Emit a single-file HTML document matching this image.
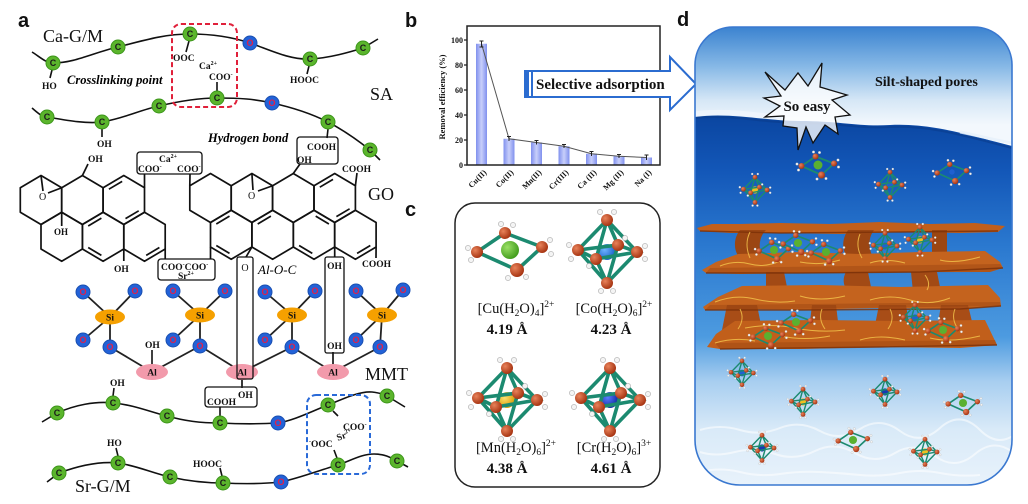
<!DOCTYPE html>
<html><head><meta charset="utf-8"><style>
html,body{margin:0;padding:0;background:#fff;}
svg{display:block;}
.ser{font-family:"Liberation Serif",serif;}
.cc{fill:#5bb52c;stroke:#3c961a;stroke-width:1}
.oc{fill:#2262d8;stroke:#1a4fb0;stroke-width:1}
.ct{font:bold 9px "Liberation Sans",sans-serif;fill:#1a1a1a;text-anchor:middle}
.ot{font:bold 9px "Liberation Sans",sans-serif;fill:#e0204a;text-anchor:middle}
.ch{font-family:"Liberation Serif",serif;font-size:9.5px;font-weight:bold;fill:#111}
.ln{stroke:#111;stroke-width:1.6;fill:none}
.hx{stroke:#111;stroke-width:1.7;fill:none;stroke-linejoin:round}
.big{font-family:"Liberation Serif",serif;font-size:18px;fill:#111}
.lab{font-family:"Liberation Sans",sans-serif;font-weight:bold;font-size:20px;fill:#111}
</style></head><body>
<svg width="1028" height="504" viewBox="0 0 1028 504" xmlns="http://www.w3.org/2000/svg">
<defs>
<linearGradient id="sky" x1="0" y1="27" x2="0" y2="125" gradientUnits="userSpaceOnUse">
<stop offset="0" stop-color="#3b83d0"/><stop offset=".4" stop-color="#86b8e6"/><stop offset=".75" stop-color="#d6e7f6"/><stop offset="1" stop-color="#f3f8fd"/>
</linearGradient>
<linearGradient id="water" x1="0" y1="115" x2="0" y2="485" gradientUnits="userSpaceOnUse">
<stop offset="0" stop-color="#0a45a0"/><stop offset=".15" stop-color="#1357b8"/><stop offset=".35" stop-color="#2a78cf"/><stop offset=".6" stop-color="#4d9be0"/><stop offset=".72" stop-color="#a8cef0"/><stop offset=".85" stop-color="#d9eaf8"/><stop offset="1" stop-color="#e8f2fb"/>
</linearGradient>
<linearGradient id="bar" x1="0" x2="1" y1="0" y2="0"><stop offset="0" stop-color="#8090ee"/><stop offset=".5" stop-color="#c8cffa"/><stop offset="1" stop-color="#8090ee"/></linearGradient>
<radialGradient id="gO" cx=".35" cy=".35" r=".7"><stop offset="0" stop-color="#e8825a"/><stop offset="1" stop-color="#a3300e"/></radialGradient>
<radialGradient id="gCu" cx=".35" cy=".35" r=".7"><stop offset="0" stop-color="#9be066"/><stop offset="1" stop-color="#3f9a1a"/></radialGradient>
<radialGradient id="gCo" cx=".35" cy=".35" r=".7"><stop offset="0" stop-color="#6fb4ff"/><stop offset="1" stop-color="#1a5fc8"/></radialGradient>
<radialGradient id="gMn" cx=".35" cy=".35" r=".7"><stop offset="0" stop-color="#ffe070"/><stop offset="1" stop-color="#d89a00"/></radialGradient>
<radialGradient id="gCr" cx=".35" cy=".35" r=".7"><stop offset="0" stop-color="#5a7cff"/><stop offset="1" stop-color="#1028a0"/></radialGradient>
<clipPath id="dclip"><path d="M695,65 A38,38 0 0 1 733,27 L974,27 A38,38 0 0 1 1012,65 L1012,440 A45,45 0 0 1 967,485 L740,485 A45,45 0 0 1 695,440 Z"/></clipPath>
<g id="oct">
<path d="M0,-32L-29,-2M0,-32L30,0M0,-32L-11,7M0,-32L11,-7M0,31L-29,-2M0,31L30,0M0,31L-11,7M0,31L11,-7M-29,-2L-11,7L30,0L11,-7Z" stroke="#1c8a70" stroke-width="3.6" stroke-linecap="round" fill="none"/>
<g fill="#f4f4f4" stroke="#aaa" stroke-width=".6">
<circle cx="-7" cy="-40" r="2.6"/><circle cx="7" cy="-40" r="2.6"/><circle cx="-6" cy="39" r="2.6"/><circle cx="6" cy="39" r="2.6"/><circle cx="-38" cy="-7" r="2.6"/><circle cx="-36" cy="7" r="2.6"/><circle cx="38" cy="-6" r="2.6"/><circle cx="38" cy="7" r="2.6"/><circle cx="-18" cy="14" r="2.6"/><circle cx="18" cy="-14" r="2.6"/>
</g>
<g fill="url(#gO)">
<circle cx="0" cy="-32" r="6"/><circle cx="0" cy="31" r="6"/><circle cx="-29" cy="-2" r="6"/><circle cx="30" cy="0" r="6"/><circle cx="-11" cy="7" r="6"/><circle cx="11" cy="-7" r="6"/>
</g>
</g>
<g id="sq">
<path d="M-5,-17L-33,2L7,20L32,-3Z" stroke="#1c8a70" stroke-width="3.6" stroke-linejoin="round" fill="none"/>
<g fill="#f4f4f4" stroke="#aaa" stroke-width=".6">
<circle cx="-9" cy="-26" r="2.6"/><circle cx="3" cy="-25" r="2.6"/><circle cx="-42" cy="-2" r="2.6"/><circle cx="-39" cy="10" r="2.6"/><circle cx="40" cy="-10" r="2.6"/><circle cx="41" cy="4" r="2.6"/><circle cx="-2" cy="28" r="2.6"/><circle cx="16" cy="27" r="2.6"/>
</g>
<g fill="url(#gO)">
<circle cx="-5" cy="-17" r="6"/><circle cx="-33" cy="2" r="6"/><circle cx="7" cy="20" r="7"/><circle cx="32" cy="-3" r="6"/>
</g>
</g>
</defs>

<!-- ============ PANEL A ============ -->
<text class="lab" x="18" y="27">a</text>

<path class="ln" stroke-width="2" d="M32,52 C40,57 46,63 53,63 C75,63 95,52 118,47 C145,40 165,34 190,34 C215,34 235,38 250,43 C270,50 290,60 310,59 C330,58 350,52 363,48 L378,39"/>
<path class="ln" stroke-width="2" d="M32,108 C38,113 42,117 47,117 C65,120 85,124 102,122 C125,118 140,110 159,106 C180,101 200,98 217,98 C240,98 255,99 272,103 C295,108 312,114 328,122 C345,131 360,142 370,150 L380,160"/>
<path class="ln" stroke-width="2" d="M42,422 L57,413 C75,405 95,401 113,403 C135,405 150,412 167,416 C185,421 200,423 220,423 C240,424 260,424 278,423 C295,420 310,412 328,405 C345,398 360,391 372,392 C380,393 384,394 387,396 L405,407"/>
<path class="ln" stroke-width="2" d="M47,482 L59,473 C78,466 98,461 118,463 C138,466 152,473 170,477 C188,481 205,483 223,483 C243,484 262,484 281,482 C300,478 320,470 338,465 C352,460 362,454 374,454 C384,454 390,457 397,461 L408,467"/>

<path class="ln" d="M52,70 L50,78 M189,41 L186,52 M217,91 L217,82 M309,66 L307,74 M102,129 L102,137 M328,129 L327,138 M113,396 L114,388 M220,416 L220,407 M333,411 L338,416 M118,456 L116,448 M222,476 L220,468 M337,458 L334,450 M152,365 L152,350"/>

<rect x="172" y="24" width="65" height="83" rx="9" fill="none" stroke="#e0203a" stroke-width="2" stroke-dasharray="5,3"/>
<rect x="307" y="395" width="63" height="79" rx="9" fill="none" stroke="#2a6ad8" stroke-width="2" stroke-dasharray="5,3"/>

<g class="ch">
<text x="42" y="89">HO</text>
<text x="171" y="61"><tspan font-size="6" dy="-4">-</tspan><tspan dy="4">OOC</tspan></text>
<text x="199" y="69">Ca<tspan font-size="6" dy="-4">2+</tspan></text>
<text x="209" y="80">COO<tspan font-size="6" dy="-4">-</tspan></text>
<text x="290" y="83">HOOC</text>
<text x="97" y="147">OH</text>
<text x="307" y="150">COOH</text>
<text x="297" y="163">OH</text>
<text x="110" y="386">OH</text>
<text x="207" y="405">COOH</text>
<text x="238" y="398">OH</text>
<text x="107" y="446">HO</text>
<text x="193" y="467">HOOC</text>
<text x="309" y="447"><tspan font-size="6" dy="-4">-</tspan><tspan dy="4">OOC</tspan></text>
<text x="336" y="438" transform="rotate(-20 345 434)">Sr<tspan font-size="6" dy="-4">2+</tspan></text>
<text x="343" y="430">COO<tspan font-size="6" dy="-4">-</tspan></text>
<text x="145" y="348">OH</text>
</g>
<rect x="297" y="137" width="41" height="27" rx="3" fill="none" stroke="#111" stroke-width="1.3"/>
<rect x="205" y="387" width="52" height="20" rx="3" fill="none" stroke="#111" stroke-width="1.3"/>

<text class="big" x="43" y="42">Ca-G/M</text>
<text class="big" x="370" y="100">SA</text>
<text class="big" x="368" y="200">GO</text>
<text class="big" x="365" y="380">MMT</text>
<text class="big" x="75" y="492">Sr-G/M</text>
<text class="ser" x="67" y="84" font-size="12.5" font-style="italic" font-weight="bold">Crosslinking point</text>
<text class="ser" x="208" y="142" font-size="12.5" font-style="italic" font-weight="bold">Hydrogen bond</text>
<text class="ser" x="258" y="274" font-size="13" font-style="italic">Al-O-C</text>

<g class="hx">
<polygon points="41,175.5 61.7,187.75 61.7,212.25 41,224.5 20.3,212.25 20.3,187.75"/>
<polygon points="82.4,175.5 103.1,187.75 103.1,212.25 82.4,224.5 61.7,212.25 61.7,187.75"/>
<polygon points="123.8,175.5 144.5,187.75 144.5,212.25 123.8,224.5 103.1,212.25 103.1,187.75"/>
<polygon points="61.7,212.25 82.4,224.5 82.4,249 61.7,261.25 41,249 41,224.5"/>
<polygon points="103.1,212.25 123.8,224.5 123.8,249 103.1,261.25 82.4,249 82.4,224.5"/>
<polygon points="144.5,212.25 165.2,224.5 165.2,249 144.5,261.25 123.8,249 123.8,224.5"/>
<polygon points="210.5,173.5 231.2,185.75 231.2,210.25 210.5,222.5 189.8,210.25 189.8,185.75"/>
<polygon points="251.9,173.5 272.6,185.75 272.6,210.25 251.9,222.5 231.2,210.25 231.2,185.75"/>
<polygon points="293.3,173.5 314,185.75 314,210.25 293.3,222.5 272.6,210.25 272.6,185.75"/>
<polygon points="334.7,173.5 355.4,185.75 355.4,210.25 334.7,222.5 314,210.25 314,185.75"/>
<polygon points="231.2,210.25 251.9,222.5 251.9,247 231.2,259.25 210.5,247 210.5,222.5"/>
<polygon points="272.6,210.25 293.3,222.5 293.3,247 272.6,259.25 251.9,247 251.9,222.5"/>
<polygon points="314,210.25 334.7,222.5 334.7,247 314,259.25 293.3,247 293.3,222.5"/>
<polygon points="355.4,210.25 376.1,222.5 376.1,247 355.4,259.25 334.7,247 334.7,222.5"/>
<path d="M108.9,189.2L122.15,181.4 M138.7,210.8L125.5,218.6 M88.2,226L101.4,218.1 M88.2,247.5L101.4,255.4 M159.4,247.5L146.2,255.4 M216.3,224L229.5,216.1 M216.3,245.5L229.5,253.4 M257.7,224L270.9,216.1 M315.7,216.1L328.9,224 M319.8,187.2L333,179.4 M349.6,208.8L336.4,216.6 M299.1,245.5L312.3,253.4 M370.3,245.5L357.1,253.4"/>
<path d="M41,175.5L43,191 M61.7,187.75L48,193 M251.9,173.5L253,190 M272.6,185.75L258,191"/>
<path d="M82.4,175.5L88,164 M61.7,212.25L61.7,226 M123.8,249L123.8,261 M144.5,187.75L144.5,174 M189.8,185.75L190,174 M165.2,249L165.2,259 M210.5,247L210.5,259 M293.3,173.5L300,164 M355.4,185.75L357,173 M376.1,247L376,258 M251.9,247L246,257 M334.7,247L334.7,257"/>
</g>
<g class="ch">
<text x="88" y="162">OH</text>
<text x="54" y="235" font-size="9">OH</text>
<text x="114" y="272">OH</text>
<text x="39" y="200" font-size="10" font-weight="normal">O</text>
<text x="248" y="199" font-size="10" font-weight="normal">O</text>
<text x="159" y="162">Ca<tspan font-size="6" dy="-4">2+</tspan></text>
<text x="138" y="172">COO<tspan font-size="6" dy="-4">-</tspan></text>
<text x="177" y="172">COO<tspan font-size="6" dy="-4">-</tspan></text>
<text x="161" y="270">COO<tspan font-size="6" dy="-4">-</tspan><tspan dy="4">COO</tspan><tspan font-size="6" dy="-4">-</tspan></text>
<text x="178" y="279">Sr<tspan font-size="6" dy="-4">2+</tspan></text>
<text x="342" y="172">COOH</text>
<text x="362" y="267">COOH</text>
<text x="245" y="271" text-anchor="middle" font-weight="normal" font-size="10">O</text>
<text x="334.5" y="269" text-anchor="middle">OH</text>
<text x="334.5" y="349" text-anchor="middle">OH</text>
</g>
<rect x="137" y="152" width="65" height="22" rx="3" fill="none" stroke="#111" stroke-width="1.3"/>
<rect x="158" y="259" width="57" height="21" rx="3" fill="none" stroke="#111" stroke-width="1.3"/>

<path stroke="#222" stroke-width="1.8" fill="none" d="
M110,317L83,292 M110,317L135,291 M110,317L83,340 M110,317L110,347
M200,315L173,291 M200,315L225,291 M200,315L173,340 M200,315L200,346
M292,315L265,292 M292,315L315,291 M292,315L265,340 M292,315L292,347
M382,315L356,291 M382,315L403,290 M382,315L356,340 M382,315L380,347
M110,347L152,372 L200,346 L242,372 L292,347 L333,372 L380,347 M333,352L333,365 M242,379L242,388"/>
<g fill="#f5a000"><ellipse cx="110" cy="317" rx="15" ry="7.5"/><ellipse cx="200" cy="315" rx="15" ry="7.5"/><ellipse cx="292" cy="315" rx="15" ry="7.5"/><ellipse cx="382" cy="315" rx="15" ry="7.5"/></g>
<g fill="#f29aab"><ellipse cx="152" cy="372" rx="16" ry="8"/><ellipse cx="242" cy="372" rx="16" ry="8"/><ellipse cx="333" cy="372" rx="16" ry="8"/></g>
<g class="ch" text-anchor="middle" font-size="9">
<text x="110" y="320.5">Si</text><text x="200" y="318.5">Si</text><text x="292" y="318.5">Si</text><text x="382" y="318.5">Si</text>
<text x="152" y="375.5">Al</text><text x="242" y="375.5">Al</text><text x="333" y="375.5">Al</text>
</g>
<rect x="237" y="257" width="16" height="122" rx="2" fill="none" stroke="#111" stroke-width="1.3"/>
<rect x="325" y="257" width="19" height="96" rx="2" fill="none" stroke="#111" stroke-width="1.3"/>

<g>
<circle class="oc" cx="250" cy="43" r="7"/><circle class="oc" cx="272" cy="103" r="7"/><circle class="oc" cx="278" cy="423" r="7"/><circle class="oc" cx="281" cy="482" r="7"/>
<circle class="oc" cx="83" cy="292" r="7"/><circle class="oc" cx="135" cy="291" r="7"/><circle class="oc" cx="83" cy="340" r="7"/><circle class="oc" cx="110" cy="347" r="7"/>
<circle class="oc" cx="173" cy="291" r="7"/><circle class="oc" cx="225" cy="291" r="7"/><circle class="oc" cx="173" cy="340" r="7"/><circle class="oc" cx="200" cy="346" r="7"/>
<circle class="oc" cx="265" cy="292" r="7"/><circle class="oc" cx="315" cy="291" r="7"/><circle class="oc" cx="265" cy="340" r="7"/><circle class="oc" cx="292" cy="347" r="7"/>
<circle class="oc" cx="356" cy="291" r="7"/><circle class="oc" cx="403" cy="290" r="7"/><circle class="oc" cx="356" cy="340" r="7"/><circle class="oc" cx="380" cy="347" r="7"/>
</g>
<g class="ot">
<text x="250" y="46.2">O</text><text x="272" y="106.2">O</text><text x="278" y="426.2">O</text><text x="281" y="485.2">O</text>
<text x="83" y="295.2">O</text><text x="135" y="294.2">O</text><text x="83" y="343.2">O</text><text x="110" y="350.2">O</text>
<text x="173" y="294.2">O</text><text x="225" y="294.2">O</text><text x="173" y="343.2">O</text><text x="200" y="349.2">O</text>
<text x="265" y="295.2">O</text><text x="315" y="294.2">O</text><text x="265" y="343.2">O</text><text x="292" y="350.2">O</text>
<text x="356" y="294.2">O</text><text x="403" y="293.2">O</text><text x="356" y="343.2">O</text><text x="380" y="350.2">O</text>
</g>
<g>
<circle class="cc" cx="53" cy="63" r="7"/><circle class="cc" cx="118" cy="47" r="7"/><circle class="cc" cx="190" cy="34" r="7"/><circle class="cc" cx="310" cy="59" r="7"/><circle class="cc" cx="363" cy="48" r="7"/>
<circle class="cc" cx="47" cy="117" r="7"/><circle class="cc" cx="102" cy="122" r="7"/><circle class="cc" cx="159" cy="106" r="7"/><circle class="cc" cx="217" cy="98" r="7"/><circle class="cc" cx="328" cy="122" r="7"/><circle class="cc" cx="370" cy="150" r="7"/>
<circle class="cc" cx="57" cy="413" r="7"/><circle class="cc" cx="113" cy="403" r="7"/><circle class="cc" cx="167" cy="416" r="7"/><circle class="cc" cx="220" cy="423" r="7"/><circle class="cc" cx="328" cy="405" r="7"/><circle class="cc" cx="387" cy="396" r="7"/>
<circle class="cc" cx="59" cy="473" r="7"/><circle class="cc" cx="118" cy="463" r="7"/><circle class="cc" cx="170" cy="477" r="7"/><circle class="cc" cx="223" cy="483" r="7"/><circle class="cc" cx="338" cy="465" r="7"/><circle class="cc" cx="397" cy="461" r="7"/>
</g>
<g class="ct">
<text x="53" y="66.2">C</text><text x="118" y="50.2">C</text><text x="190" y="37.2">C</text><text x="310" y="62.2">C</text><text x="363" y="51.2">C</text>
<text x="47" y="120.2">C</text><text x="102" y="125.2">C</text><text x="159" y="109.2">C</text><text x="217" y="101.2">C</text><text x="328" y="125.2">C</text><text x="370" y="153.2">C</text>
<text x="57" y="416.2">C</text><text x="113" y="406.2">C</text><text x="167" y="419.2">C</text><text x="220" y="426.2">C</text><text x="328" y="408.2">C</text><text x="387" y="399.2">C</text>
<text x="59" y="476.2">C</text><text x="118" y="466.2">C</text><text x="170" y="480.2">C</text><text x="223" y="486.2">C</text><text x="338" y="468.2">C</text><text x="397" y="464.2">C</text>
</g>

<!-- ============ PANEL B ============ -->
<text class="lab" x="405" y="27">b</text>
<g>
<rect x="476" y="43.75" width="11" height="121.25" fill="url(#bar)"/>
<rect x="503.5" y="138.75" width="11" height="26.25" fill="url(#bar)"/>
<rect x="531" y="142.5" width="11" height="22.5" fill="url(#bar)"/>
<rect x="558.5" y="146.25" width="11" height="18.75" fill="url(#bar)"/>
<rect x="586" y="153.75" width="11" height="11.25" fill="url(#bar)"/>
<rect x="613.5" y="156.25" width="11" height="8.75" fill="url(#bar)"/>
<rect x="641" y="157.5" width="11" height="7.5" fill="url(#bar)"/>
<polyline points="481.5,43.75 509,138.75 536.5,142.5 564,146.25 591.5,153.75 619,156.25 646.5,157.5" fill="none" stroke="#555" stroke-width="1"/>
<path stroke="#222" stroke-width="1" fill="none" d="M481.5,41V47M479.5,41H483.5M479.5,47H483.5 M509,136.5V141M507,136.5H511 M536.5,140.5V144.5M534.5,140.5H538.5 M564,144.5V148M562,144.5H566 M591.5,151.5V156M589.5,151.5H593.5 M619,154.5V158M617,154.5H621 M646.5,155V160M644.5,155H648.5"/>
<rect x="467" y="26" width="193" height="139" fill="none" stroke="#222" stroke-width="1.5"/>
<path stroke="#222" stroke-width="1.2" d="M464,165H467M464,140H467M464,115H467M464,90H467M464,65H467M464,40H467"/>
<g class="ser" font-size="8" font-weight="bold" text-anchor="end" fill="#111">
<text x="463" y="168">0</text><text x="463" y="143">20</text><text x="463" y="118">40</text><text x="463" y="93">60</text><text x="463" y="68">80</text><text x="463" y="43">100</text>
</g>
<text class="ser" transform="translate(445,97) rotate(-90)" text-anchor="middle" font-size="8.5" font-weight="bold" fill="#111">Removal efficiency (%)</text>
<g class="ser" font-size="8" font-weight="bold" text-anchor="end" fill="#111">
<text transform="translate(487,173) rotate(-45)">Cu(II)</text>
<text transform="translate(514,173) rotate(-45)">Co(II)</text>
<text transform="translate(542,173) rotate(-45)">Mn(II)</text>
<text transform="translate(569,173) rotate(-45)">Cr(III)</text>
<text transform="translate(597,173) rotate(-45)">Ca (II)</text>
<text transform="translate(624,173) rotate(-45)">Mg (II)</text>
<text transform="translate(652,173) rotate(-45)">Na (I)</text>
</g>
</g>
<path d="M525,71 L670,71 L670,57 L696,84 L670,110 L670,97 L525,97 Z" fill="#fff" stroke="#2b6cd0" stroke-width="2" stroke-linejoin="miter"/>
<rect x="525" y="71" width="4" height="26" fill="#2b6cd0"/>
<rect x="531" y="71" width="2" height="26" fill="#2b6cd0"/>
<text class="ser" x="536" y="89" font-size="15" font-weight="bold" fill="#111">Selective adsorption</text>

<!-- ============ PANEL C ============ -->
<text class="lab" x="405" y="216">c</text>
<rect x="455" y="203" width="205" height="284" rx="20" fill="none" stroke="#222" stroke-width="1.5"/>
<g transform="translate(510,250)"><circle r="9" fill="url(#gCu)"/><use href="#sq"/></g>
<g transform="translate(607,252)"><circle r="8" fill="url(#gCo)"/><use href="#oct"/></g>
<g transform="translate(507,400)"><circle r="8" fill="url(#gMn)"/><use href="#oct"/></g>
<g transform="translate(610,400)"><circle r="8" fill="url(#gCr)"/><use href="#oct"/></g>
<g class="ser" fill="#111" text-anchor="middle">
<text x="516" y="313" font-size="14.5">[Cu(H<tspan font-size="9.5" dy="3">2</tspan><tspan dy="-3">O)</tspan><tspan font-size="9.5" dy="3">4</tspan><tspan dy="-3">]</tspan><tspan font-size="9.5" dy="-6">2+</tspan></text>
<text x="614" y="313" font-size="14.5">[Co(H<tspan font-size="9.5" dy="3">2</tspan><tspan dy="-3">O)</tspan><tspan font-size="9.5" dy="3">6</tspan><tspan dy="-3">]</tspan><tspan font-size="9.5" dy="-6">2+</tspan></text>
<text x="516" y="452" font-size="14.5">[Mn(H<tspan font-size="9.5" dy="3">2</tspan><tspan dy="-3">O)</tspan><tspan font-size="9.5" dy="3">6</tspan><tspan dy="-3">]</tspan><tspan font-size="9.5" dy="-6">2+</tspan></text>
<text x="614" y="452" font-size="14.5">[Cr(H<tspan font-size="9.5" dy="3">2</tspan><tspan dy="-3">O)</tspan><tspan font-size="9.5" dy="3">6</tspan><tspan dy="-3">]</tspan><tspan font-size="9.5" dy="-6">3+</tspan></text>
<text x="507" y="334" font-size="15" font-weight="bold">4.19 Å</text>
<text x="611" y="334" font-size="15" font-weight="bold">4.23 Å</text>
<text x="507" y="473" font-size="15" font-weight="bold">4.38 Å</text>
<text x="611" y="473" font-size="15" font-weight="bold">4.61 Å</text>
</g>

<!-- ============ PANEL D ============ -->
<text class="lab" x="677" y="26">d</text>
<g clip-path="url(#dclip)">
<rect x="695" y="27" width="317" height="115" fill="url(#sky)"/>
<path d="M695,117 C730,112 765,121 800,121 C840,121 860,127 890,125 C930,123 965,134 1012,146 L1012,485 L695,485Z" fill="url(#water)"/>
<path d="M695,114 C720,110 750,114 785,118" stroke="#eef5fc" stroke-width="5" fill="none" opacity=".85"/>
<path d="M695,118 C730,114 765,123 800,123 C840,123 860,129 890,127 C930,125 965,136 1012,148" stroke="#0a3c8c" stroke-width="2" fill="none" opacity=".6"/>
<path d="M960,132 C980,136 995,140 1012,143" stroke="#e6f0fa" stroke-width="3" fill="none" opacity=".8"/>
<g stroke="#ffffff" stroke-width="2" fill="none" opacity=".55">
<path d="M700,430 q20,-6 40,0 t40,-2 t40,3 t40,-2 t40,2 t40,-3 t40,2 t40,0"/>
<path d="M700,452 q15,5 35,0 t40,2 t40,-3 t40,2 t40,0 t40,3 t40,-2 t40,0"/>
<path d="M700,472 q20,-5 40,0 t40,2 t40,-2 t40,3 t40,-2 t40,0 t40,2"/>
</g>

<g transform="translate(755,190) scale(.4)"><circle r="9" fill="#f0c020"/><use href="#oct"/></g>
<g transform="translate(818,165) scale(.5)"><circle r="9" fill="#5ab030"/><use href="#sq"/></g>
<g transform="translate(890,185) scale(.4)"><circle r="9" fill="#2060d0"/><use href="#oct"/></g>
<g transform="translate(952,172) scale(.45)"><circle r="6" fill="#2060d0"/><use href="#sq"/></g>

<!-- layers -->
<path d="M697,228 L712,224 L740,224 L780,223 L830,224 L880,222 L930,224 L975,223 L1005,226 L998,232 L960,233 L900,232 L840,234 L780,233 L730,233 L700,231Z" fill="#c15f1b"/>
<g fill="#9b4613">
<path d="M740,230 C732,240 734,254 742,260 L764,260 C758,250 758,238 766,230Z"/>
<path d="M848,230 C840,242 843,254 850,260 L874,260 C868,248 868,238 874,230Z"/>
<path d="M932,230 L947,230 L947,258 L932,258Z"/>
</g>
<path d="M702,270 L716,262 L738,254 L800,252 L860,254 L920,252 L985,251 L1000,262 L1003,268 L990,272 L920,272 L860,273 L800,273 L740,274 L706,273Z" fill="#c4631e"/>
<g fill="#a24a15">
<path d="M766,272 L784,272 L788,292 L766,292Z"/>
<path d="M846,272 C841,281 845,289 849,292 L872,292 L868,272Z"/>
<path d="M911,272 L937,272 L941,292 L913,292Z"/>
</g>
<path d="M703,307 L718,297 L742,286 L820,285 L900,287 L988,285 L1000,298 L1001,306 L960,309 L880,308 L800,310 L740,309 L705,310Z" fill="#c4631e"/>
<g fill="#a84d17">
<path d="M727,305 L757,305 L762,330 L722,330Z"/>
<path d="M812,305 L836,305 L839,330 L809,330Z"/>
<path d="M879,305 L906,305 L910,330 L874,330Z"/>
<path d="M941,305 L968,305 L974,330 L937,330Z"/>
</g>
<path d="M707,347 L716,334 L735,321 L820,320 L900,321 L985,320 L997,345 L960,348 L880,347 L800,349 L720,349Z" fill="#c15f1b"/>
<g fill="#8e3d0e" opacity=".35">
<path d="M706,273 L990,272 L1003,268 L1000,264 L710,268Z"/>
<path d="M705,310 L1001,306 L1000,302 L710,305Z"/>
<path d="M720,349 L997,345 L995,340 L715,343Z"/>
</g>
<g stroke="#7a3008" stroke-width="1.4" fill="none" opacity=".8">
<path d="M700,231 L780,233 L900,232 L998,231"/>
<path d="M706,273 L800,273 L920,272 L1003,268"/>
<path d="M705,310 L800,310 L960,309 L1001,306"/>
<path d="M720,349 L880,347 L997,345"/>
</g>
<g stroke="#f2c24a" stroke-width="1" fill="none" opacity=".85">
<path d="M720,266 q15,-6 30,-2 t30,-3"/><path d="M800,262 q20,4 40,-2"/><path d="M870,263 q15,-5 35,0"/><path d="M940,260 q15,4 40,-3"/>
<path d="M715,302 q20,-8 40,-3 t40,2"/><path d="M800,296 q20,6 45,0"/><path d="M870,300 q20,-6 40,0 t40,-2"/>
<path d="M715,343 q20,-6 40,-2"/><path d="M780,336 q25,5 50,0"/><path d="M860,340 q20,-6 45,0"/><path d="M930,338 q20,5 50,-2"/><path d="M745,328 q25,-5 50,0 t50,2"/>
<path d="M740,309 q5,10 -2,20"/><path d="M822,309 q-4,10 3,20"/><path d="M890,309 q5,10 -2,20"/><path d="M955,309 q-4,10 3,20"/>
<path d="M750,232 q-6,12 0,26"/><path d="M860,234 q-5,12 2,24"/><path d="M925,275 q6,8 2,15"/>
</g>
<g transform="translate(774,250) scale(.45)"><circle r="9" fill="#5ab030"/><use href="#sq"/></g>
<g transform="translate(798,243) scale(.45)"><circle r="9" fill="#5ab030"/><use href="#sq"/></g>
<g transform="translate(826,252) scale(.45)"><circle r="9" fill="#5ab030"/><use href="#sq"/></g>
<g transform="translate(885,246) scale(.4)"><circle r="9" fill="#2060d0"/><use href="#oct"/></g>
<g transform="translate(920,240) scale(.4)"><circle r="9" fill="#f0c020"/><use href="#oct"/></g>
<g transform="translate(796,322) scale(.45)"><circle r="9" fill="#5ab030"/><use href="#sq"/></g>
<g transform="translate(768,336) scale(.45)"><circle r="9" fill="#5ab030"/><use href="#sq"/></g>
<g transform="translate(915,318) scale(.4)"><circle r="9" fill="#2060d0"/><use href="#oct"/></g>
<g transform="translate(943,330) scale(.45)"><circle r="9" fill="#5ab030"/><use href="#sq"/></g>
<g transform="translate(742,373) scale(.38)"><circle r="9" fill="#2060d0"/><use href="#oct"/></g>
<g transform="translate(803,402) scale(.4)"><circle r="9" fill="#f0c020"/><use href="#oct"/></g>
<g transform="translate(885,392) scale(.4)"><circle r="9" fill="#1838b0"/><use href="#oct"/></g>
<g transform="translate(963,403) scale(.45)"><circle r="9" fill="#5ab030"/><use href="#sq"/></g>
<g transform="translate(762,448) scale(.4)"><circle r="9" fill="#1838b0"/><use href="#oct"/></g>
<g transform="translate(853,440) scale(.45)"><circle r="9" fill="#5ab030"/><use href="#sq"/></g>
<g transform="translate(925,452) scale(.4)"><circle r="9" fill="#f0c020"/><use href="#oct"/></g>
</g>
<path d="M695,65 A38,38 0 0 1 733,27 L974,27 A38,38 0 0 1 1012,65 L1012,440 A45,45 0 0 1 967,485 L740,485 A45,45 0 0 1 695,440 Z" fill="none" stroke="#3a78d0" stroke-width="1.6"/>
<polygon points="765,72 785,90 798,73 808,86 822,63 820,87 847,95 832,100 850,115 835,117 838,134 825,125 813,143 806,127 798,150 797,128 783,126 784,116 765,117 780,106 764,98 781,96" fill="#ffffff" fill-opacity=".78" stroke="#111" stroke-width="1.3" stroke-linejoin="miter"/>
<text class="ser" x="807" y="111" text-anchor="middle" font-size="15" font-weight="bold" fill="#111">So easy</text>
<text class="ser" x="875" y="86" font-size="14" font-weight="bold" fill="#111">Silt-shaped pores</text>
</svg>
</body></html>
